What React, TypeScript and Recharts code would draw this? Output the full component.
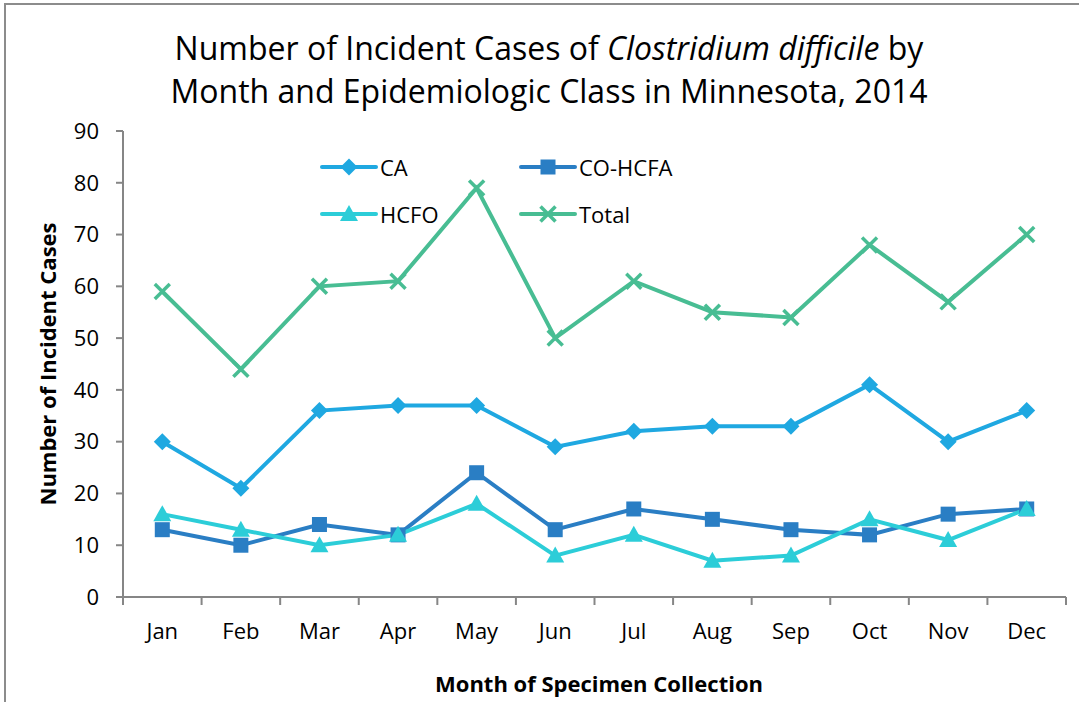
import { LineChart, Line, XAxis, YAxis } from 'recharts';

const months = ['Jan', 'Feb', 'Mar', 'Apr', 'May', 'Jun', 'Jul', 'Aug', 'Sep', 'Oct', 'Nov', 'Dec'];
const caCases = [30, 21, 36, 37, 37, 29, 32, 33, 33, 41, 30, 36];
const coHcfaCases = [13, 10, 14, 12, 24, 13, 17, 15, 13, 12, 16, 17];
const hcfoCases = [16, 13, 10, 12, 18, 8, 12, 7, 8, 15, 11, 17];
const totalCases = [59, 44, 60, 61, 79, 50, 61, 55, 54, 68, 57, 70];
const yTicks = [0, 10, 20, 30, 40, 50, 60, 70, 80, 90];

const data = months.map((month, i) => ({
  x: i + 0.5,
  month,
  CA: caCases[i],
  'CO-HCFA': coHcfaCases[i],
  HCFO: hcfoCases[i],
  Total: totalCases[i],
}));
const xTicks = [...months.map((_, i) => i), months.length];

const FONT = '"Open Sans", sans-serif';
const W = 1079;
const H = 702;
const MARGIN = { top: 131, right: 13, left: 63, bottom: 65 };
const PLOT_W = W - MARGIN.left - 60 - MARGIN.right;
const BAND = PLOT_W / months.length;

type Shape = 'diamond' | 'square' | 'triangle' | 'x';

const series: { key: string; color: string; shape: Shape }[] = [
  { key: 'CA', color: '#1fa8e1', shape: 'diamond' },
  { key: 'CO-HCFA', color: '#2a7ec4', shape: 'square' },
  { key: 'HCFO', color: '#2ccdd8', shape: 'triangle' },
  { key: 'Total', color: '#48bd93', shape: 'x' },
];

function Marker({ cx, cy, shape, color }: { cx: number; cy: number; shape: Shape; color: string }) {
  if (shape === 'diamond') {
    const r = 8.5;
    return <polygon points={`${cx},${cy - r} ${cx + r},${cy} ${cx},${cy + r} ${cx - r},${cy}`} fill={color} />;
  }
  if (shape === 'square') {
    return <rect x={cx - 7.5} y={cy - 7.5} width={15} height={15} fill={color} />;
  }
  if (shape === 'triangle') {
    return <polygon points={`${cx},${cy - 9} ${cx + 9},${cy + 7} ${cx - 9},${cy + 7}`} fill={color} />;
  }
  const r = 7.5;
  return (
    <g stroke={color} strokeWidth={3.5}>
      <line x1={cx - r} y1={cy - r} x2={cx + r} y2={cy + r} />
      <line x1={cx - r} y1={cy + r} x2={cx + r} y2={cy - r} />
    </g>
  );
}

function MonthTick(props: any) {
  const { x, y, payload } = props;
  if (payload.value >= months.length) return <g />;
  return (
    <text x={x + BAND / 2} y={y + 32} textAnchor="middle" fontFamily={FONT} fontSize={22} fill="#000">
      {months[payload.value]}
    </text>
  );
}

function LegendItem({ s, left, top }: { s: (typeof series)[number]; left: number; top: number }) {
  return (
    <div style={{ position: 'absolute', left, top, display: 'flex', alignItems: 'center' }}>
      <svg width={58} height={24}>
        <line x1={2} y1={12} x2={56} y2={12} stroke={s.color} strokeWidth={4} strokeLinecap="round" />
        <Marker cx={29} cy={12} shape={s.shape} color={s.color} />
      </svg>
      <span style={{ fontFamily: FONT, fontSize: 22, lineHeight: '24px', marginLeft: 2, color: '#000' }}>{s.key}</span>
    </div>
  );
}

export default function App() {
  return (
    <div style={{ position: 'absolute', left: 0, top: 0, width: W, height: H, overflow: 'hidden', background: '#fff' }}>
      <div style={{ position: 'absolute', left: 4, top: 3, width: W + 20, height: H + 20, border: '2px solid #8c8c8c' }} />
      <div
        style={{
          position: 'absolute', left: 0, top: 26, width: 1098, textAlign: 'center',
          fontFamily: FONT, fontSize: 32, lineHeight: '43px', color: '#000',
        }}
      >
        Number of Incident Cases of <i>Clostridium difficile</i> by
        <br />
        Month and Epidemiologic Class in Minnesota, 2014
      </div>
      <LineChart width={W} height={H} data={data} margin={MARGIN} style={{ position: 'absolute', left: 0, top: 0 }}>
        <XAxis
          dataKey="x"
          type="number"
          domain={[0, months.length]}
          ticks={xTicks}
          interval={0}
          tick={<MonthTick />}
          tickSize={8}
          height={40}
          axisLine={{ stroke: '#868686', strokeWidth: 2 }}
          tickLine={{ stroke: '#868686', strokeWidth: 2 }}
        />
        <YAxis
          domain={[0, 90]}
          ticks={yTicks}
          interval={0}
          width={60}
          tickSize={7}
          tickMargin={17}
          tick={{ fontFamily: FONT, fontSize: 22, fill: '#000' }}
          axisLine={{ stroke: '#868686', strokeWidth: 2 }}
          tickLine={{ stroke: '#868686', strokeWidth: 2 }}
        />
        {series.map((s) => (
          <Line
            key={s.key}
            dataKey={s.key}
            stroke={s.color}
            strokeWidth={4}
            isAnimationActive={false}
            dot={(p: any) => <Marker key={`${s.key}-${p.index}`} cx={p.cx} cy={p.cy} shape={s.shape} color={s.color} />}
            activeDot={false}
          />
        ))}
      </LineChart>
      <LegendItem s={series[0]} left={320} top={155} />
      <LegendItem s={series[1]} left={519} top={155} />
      <LegendItem s={series[2]} left={320} top={202} />
      <LegendItem s={series[3]} left={519} top={202} />
      <div
        style={{
          position: 'absolute', left: 47, top: 364, transform: 'translate(-50%, -50%) rotate(-90deg)',
          fontFamily: FONT, fontSize: 22, fontWeight: 700, whiteSpace: 'nowrap', color: '#000',
        }}
      >
        Number of Incident Cases
      </div>
      <div
        style={{
          position: 'absolute', left: 599, top: 683, transform: 'translate(-50%, -50%)',
          fontFamily: FONT, fontSize: 22, fontWeight: 700, whiteSpace: 'nowrap', color: '#000',
        }}
      >
        Month of Specimen Collection
      </div>
    </div>
  );
}
